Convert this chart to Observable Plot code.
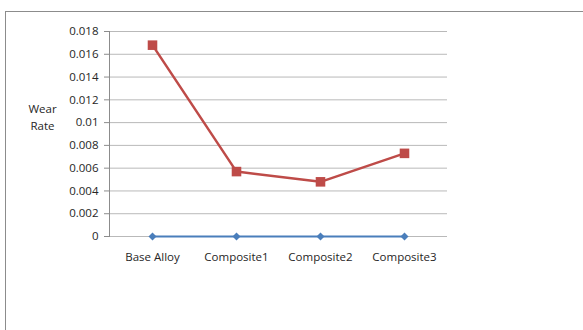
<!DOCTYPE html>
<html>
<head>
<meta charset="utf-8">
<script src="https://cdn.jsdelivr.net/npm/d3@7"></script>
<script src="https://cdn.jsdelivr.net/npm/@observablehq/plot@0.6"></script>
<style>
  html, body { margin: 0; padding: 0; background: #fff; }
  #wrap { position: relative; width: 583px; height: 330px; overflow: hidden; }
  #border { position: absolute; left: 5px; top: 11px; width: 600px; height: 340px;
            border-left: 1px solid #8c8c8c; border-top: 1px solid #8c8c8c; box-sizing: border-box; }
  #chart { position: absolute; left: 0; top: 0; }
</style>
</head>
<body>
<div id="wrap"><div id="border"></div><div id="chart"></div></div>
<script>
const categories = ["Base Alloy", "Composite1", "Composite2", "Composite3"];
const seriesA = [0, 0, 0, 0];                       // blue series
const seriesB = [0.0168, 0.0057, 0.0048, 0.0073];   // red series
const yTicks = [0, 0.002, 0.004, 0.006, 0.008, 0.01, 0.012, 0.014, 0.016, 0.018];
const yLabel = "Wear\nRate";

const blue = categories.map((c, i) => ({cat: c, v: seriesA[i]}));
const red = categories.map((c, i) => ({cat: c, v: seriesB[i]}));

const font = "'Open Sans', 'Liberation Sans', sans-serif";
const fs = 11.5;
const txt = "#262626";

const chart = Plot.plot({
  width: 583,
  height: 330,
  marginLeft: 109,
  marginRight: 136,
  marginTop: 31,
  marginBottom: 94,
  style: {fontFamily: font, fontSize: fs + "px", background: "transparent", color: txt},
  x: {type: "point", domain: categories, padding: 0.5},
  y: {domain: [0, 0.018]},
  marks: [
    Plot.gridY(yTicks, {stroke: "#b9b9b9", strokeOpacity: 1, strokeWidth: 1}),
    Plot.frame({anchor: "left", stroke: "#8c8c8c"}),
    Plot.axisY(yTicks, {tickSize: 5, tickPadding: 6, stroke: "#8c8c8c", fill: txt, label: null,
      tickFormat: d => String(d), fontSize: fs}),
    Plot.axisX({tickSize: 0, tickPadding: 16, label: null, fill: txt, fontSize: fs}),
    Plot.text([yLabel], {frameAnchor: "left", dx: -67, dy: -18, text: d => d, fontSize: fs,
      lineHeight: 1.5, fill: txt, textAnchor: "middle"}),
    Plot.line(blue, {x: "cat", y: "v", stroke: "#4a7ebb", strokeWidth: 1.8}),
    Plot.dot(blue, {x: "cat", y: "v", symbol: "diamond2", r: 3.6, fill: "#4a7ebb", stroke: "none"}),
    Plot.line(red, {x: "cat", y: "v", stroke: "#be4b48", strokeWidth: 2.5}),
    Plot.dot(red, {x: "cat", y: "v", symbol: "square", r: 5.4, fill: "#be4b48", stroke: "none"})
  ]
});
document.getElementById("chart").appendChild(chart);
</script>
</body>
</html>
